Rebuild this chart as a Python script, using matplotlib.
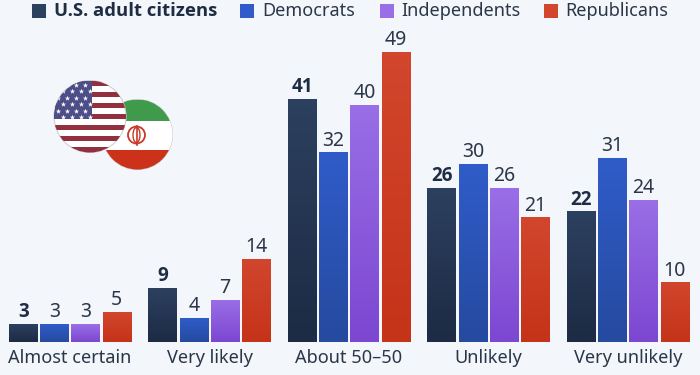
import matplotlib
matplotlib.use("Agg")
import matplotlib.pyplot as plt
import matplotlib.patches as mpatches
from matplotlib.colors import LinearSegmentedColormap
import numpy as np

categories = ["Almost certain", "Very likely", "About 50\u201350", "Unlikely", "Very unlikely"]
series_names = ["U.S. adult citizens", "Democrats", "Independents", "Republicans"]
adults = [3, 9, 41, 26, 22]
democrats = [3, 4, 32, 30, 31]
independents = [3, 7, 40, 26, 24]
republicans = [5, 14, 49, 21, 10]

W, H = 700, 375
BG = "#f3f6fa"
TEXT = "#2b3648"
DARK = "#1e2c44"

# (bottom colour, top colour) of each series
gradients = [("#1d2b44", "#2c405f"), ("#254a9f", "#305cc9"), ("#7d47d1", "#996ee6"), ("#c53319", "#d1462d")]
legend_swatch_x = [32, 240, 380, 544]
legend_text_x = [54, 262, 401, 565]

plt.rcParams["font.family"] = ["Noto Sans", "DejaVu Sans"]

fig = plt.figure(figsize=(W / 100, H / 100), dpi=100, facecolor=BG)
ax = fig.add_axes([0, 33 / H, 1, 342 / H])
ax.set_facecolor("none")

group_w = 139.5
step = 31.2 / group_w
bar_w = 28.5 / group_w
all_series = [adults, democrats, independents, republicans]
x = np.arange(len(categories))

for i, values in enumerate(all_series):
    offset = (i - 1.5) * step
    bars = ax.bar(x + offset, values, width=bar_w, color=gradients[i][1], linewidth=0)
    cmap = LinearSegmentedColormap.from_list("g", gradients[i])
    for bar, val in zip(bars, values):
        # gradient fill, clipped to the bar
        bar.set_alpha(0)
        ax.imshow(
            np.linspace(1, 0, 64).reshape(-1, 1),
            cmap=cmap,
            vmin=0,
            vmax=1,
            aspect="auto",
            extent=(bar.get_x(), bar.get_x() + bar.get_width(), 0, val),
            zorder=2,
        )
        ax.text(
            bar.get_x() + bar.get_width() / 2,
            val + 0.4,
            str(val),
            ha="center",
            va="bottom",
            fontsize=14 if i else 13.5,
            color=DARK if i == 0 else TEXT,
            family="Open Sans" if i == 0 else "Noto Sans",
            fontweight="bold" if i == 0 else "normal",
            zorder=3,
        )

ax.set_xlim(-70 / group_w, 630 / group_w)
ax.set_ylim(0, 342 / 5.91)
ax.set_xticks(x)
ax.set_xticklabels(categories, fontsize=13.1, color=TEXT)
ax.tick_params(axis="x", length=0, pad=5)
ax.set_yticks([])
for s in ax.spines.values():
    s.set_visible(False)

# overlay in pixel coordinates for the legend and the flags
ov = fig.add_axes([0, 0, 1, 1])
ov.set_xlim(0, W)
ov.set_ylim(H, 0)
ov.axis("off")
ov.patch.set_alpha(0)

for i, name in enumerate(series_names):
    ov.add_patch(mpatches.Rectangle((legend_swatch_x[i], 4), 13.5, 13.5, color=gradients[i][1], lw=0))
    ov.text(
        legend_text_x[i],
        11,
        name,
        va="center",
        ha="left",
        fontsize=13.3 if i == 0 else 13,
        color=DARK if i == 0 else TEXT,
        family="Open Sans" if i == 0 else "Noto Sans",
        fontweight="bold" if i == 0 else "normal",
    )

# Iran flag
ic = (137.5, 134.5)
r = 35
iran = mpatches.Circle(ic, r, transform=ov.transData, fc="white", ec="#c9c9c9", lw=0.8, zorder=4)
ov.add_patch(iran)
for y0, h, c in [(ic[1] - r, 21, "#3f9a4c"), (ic[1] - r + 21, 29, "white"), (ic[1] - r + 50, 21, "#cb3219")]:
    p = mpatches.Rectangle((ic[0] - r, y0), 2 * r, h, color=c, lw=0, zorder=4.1)
    ov.add_patch(p)
    p.set_clip_path(iran)
ov.add_patch(mpatches.Ellipse((136.5, 135), 17, 17, fill=False, ec="#c63a2a", lw=1.3, zorder=4.2))
ov.add_patch(mpatches.Ellipse((136.5, 135), 7, 15, fill=False, ec="#c63a2a", lw=1.0, zorder=4.2))
ov.plot([136.5, 136.5], [126, 145], color="#c63a2a", lw=1.2, zorder=4.2)

# US flag
uc = (90, 116.5)
r = 36
usa = mpatches.Circle(uc, r, transform=ov.transData, fc="white", ec="#d0d0d0", lw=0.8, zorder=5)
ov.add_patch(usa)
stripe_h = 2 * r / 13
for k in range(0, 13, 2):
    p = mpatches.Rectangle((uc[0] - r, uc[1] - r + k * stripe_h), 2 * r, stripe_h, color="#92303f", lw=0, zorder=5.1)
    ov.add_patch(p)
    p.set_clip_path(usa)
canton = mpatches.Rectangle((uc[0] - r, uc[1] - r), 38, 38.5, color="#4d4d88", lw=0, zorder=5.2)
ov.add_patch(canton)
canton.set_clip_path(usa)
star_x, star_y = np.meshgrid(np.arange(uc[0] - 32, uc[0] + 2, 9), np.arange(uc[1] - 32, uc[1] + 2, 6.5))
star_x = star_x + (np.arange(star_x.shape[0]).reshape(-1, 1) % 2) * 4.5
stars = ov.scatter(star_x.ravel(), star_y.ravel(), s=16, marker="*", color="white", lw=0, zorder=5.3)
stars.set_clip_path(usa)

fig.savefig("out.png", dpi=100, facecolor=BG)
